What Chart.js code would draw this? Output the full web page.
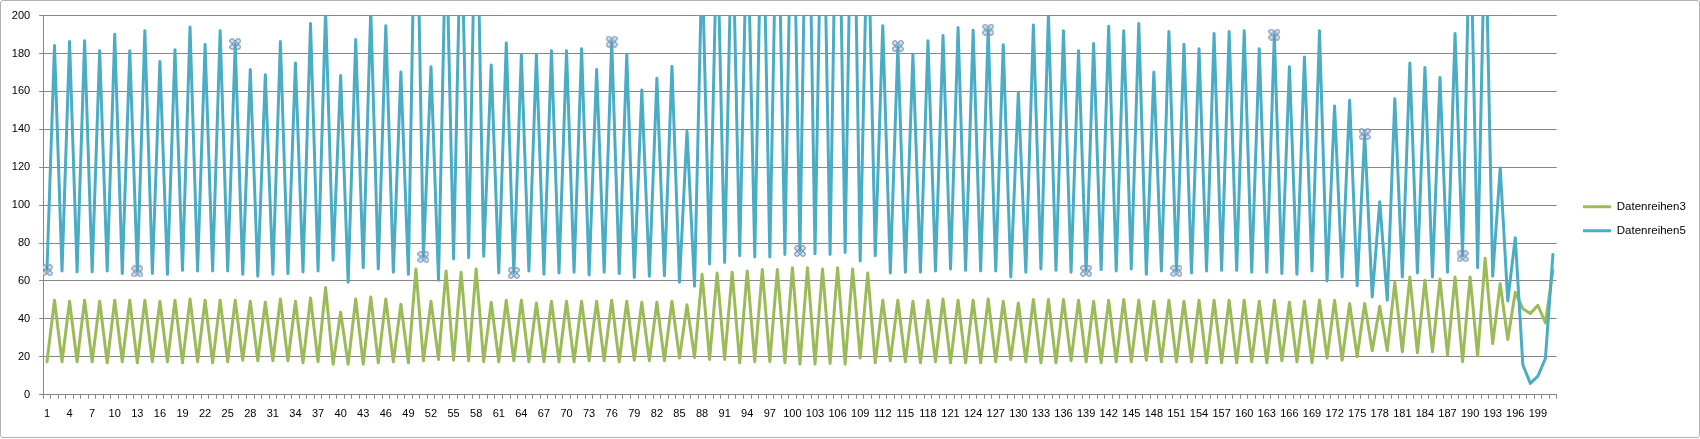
<!DOCTYPE html>
<html>
<head>
<meta charset="utf-8">
<script src="https://cdn.jsdelivr.net/npm/chart.js@4.4.1/dist/chart.umd.min.js"></script>
<style>
  html, body { margin: 0; padding: 0; background: #fff; }
  #rahmen { position: relative; width: 1700px; height: 439px; }
  #rand { position: absolute; left: 0; top: 0; width: 1698px; height: 436px; border: 1px solid #b2b2b2; border-radius: 3px; pointer-events: none; }
</style>
</head>
<body>
<div id="rahmen">
  <canvas id="myChart" width="1700" height="439"></canvas>
  <div id="rand"></div>
</div>
<script>
// Kategorien 1..201
var kategorien = [];
for (var k = 1; k <= 201; k++) kategorien.push(String(k));

// Datenreihen3 (grün)
var datenreihen3 = [
  17.4, 49.8, 17.4, 49.3, 17.4, 49.8, 17.4, 49.3, 16.8, 49.8,
  17.4, 49.8, 16.8, 49.8, 17.4, 49.3, 17.4, 49.8, 16.8, 50.5,
  17.4, 49.8, 16.8, 49.8, 17.4, 49.8, 18.2, 49.3, 17.9, 48.8,
  17.9, 50.5, 17.9, 49.3, 16.8, 51.0, 17.4, 56.5, 16.1, 43.5,
  16.1, 50.5, 16.1, 51.6, 16.8, 50.5, 17.4, 47.7, 16.8, 66.3,
  17.9, 49.3, 18.6, 65.3, 18.2, 64.6, 17.9, 66.3, 17.4, 48.8,
  17.4, 49.8, 17.9, 49.8, 17.4, 48.4, 17.4, 49.3, 17.4, 49.3,
  17.4, 49.3, 17.9, 49.3, 17.9, 49.8, 17.4, 49.3, 18.2, 48.8,
  17.9, 48.8, 17.9, 49.3, 19.3, 47.4, 19.6, 63.5, 18.6, 64.2,
  18.6, 64.6, 16.8, 65.3, 17.4, 66.0, 17.4, 66.0, 16.8, 67.0,
  16.1, 67.0, 16.1, 66.3, 16.5, 67.0, 16.1, 66.3, 19.3, 64.2,
  16.8, 49.8, 17.9, 49.8, 17.4, 49.3, 16.8, 49.8, 17.4, 50.5,
  16.8, 49.8, 16.8, 49.8, 16.8, 50.5, 17.4, 49.3, 18.6, 48.4,
  17.4, 50.2, 16.8, 50.2, 16.8, 50.2, 17.9, 49.8, 17.4, 49.3,
  16.8, 49.8, 17.4, 50.2, 17.4, 49.8, 18.2, 49.3, 17.4, 49.8,
  17.4, 49.3, 17.4, 49.8, 16.8, 49.8, 16.8, 49.8, 16.8, 49.8,
  17.4, 49.3, 16.8, 49.8, 17.9, 48.8, 17.4, 49.3, 16.8, 49.8,
  19.3, 49.8, 18.2, 48.1, 20.0, 48.1, 23.2, 46.7, 23.2, 59.3,
  22.6, 62.1, 22.1, 60.4, 22.6, 61.0, 20.9, 62.1, 17.4, 62.1,
  20.4, 72.0, 27.0, 58.6, 29.1, 54.0, 45.4, 42.8, 47.2, 37.9,
  65.6
];

// Datenreihen5 (blau) - Spitzen über 200 sind abgeschnitten, geschätzt
var datenreihen5 = [
  65.6, 184.2, 65.3, 186.3, 64.7, 186.7, 64.7, 181.4, 65.3, 190.2,
  63.9, 181.4, 65.0, 192.0, 64.0, 175.8, 63.5, 182.0, 65.6, 194.0,
  65.3, 184.7, 65.3, 192.0, 65.3, 185.0, 63.5, 171.6, 62.5, 168.8,
  63.5, 186.3, 63.9, 175.0, 64.7, 195.8, 65.3, 203.0, 70.9, 168.4,
  59.3, 187.4, 67.0, 203.0, 66.3, 194.7, 64.6, 170.2, 63.5, 295.0,
  72.6, 173.0, 60.4, 248.0, 71.6, 258.0, 72.3, 285.0, 73.0, 174.0,
  64.2, 185.6, 64.2, 179.3, 65.3, 179.3, 63.5, 181.4, 64.2, 181.4,
  64.6, 182.5, 63.2, 171.6, 64.6, 186.3, 63.9, 179.6, 61.8, 160.7,
  62.5, 167.0, 62.8, 173.3, 59.3, 139.0, 57.2, 230.0, 69.0, 248.0,
  69.8, 258.0, 73.3, 258.0, 72.6, 285.0, 72.6, 285.0, 74.0, 300.0,
  75.8, 320.0, 74.4, 300.0, 74.0, 320.0, 75.0, 318.0, 70.5, 258.0,
  73.3, 194.7, 64.2, 184.0, 64.6, 179.6, 64.6, 186.7, 65.3, 189.5,
  66.3, 193.7, 65.6, 192.3, 65.3, 192.6, 65.3, 184.6, 62.1, 159.3,
  64.6, 195.0, 66.3, 201.0, 65.6, 192.0, 64.6, 181.4, 65.3, 185.3,
  66.0, 194.4, 65.3, 192.0, 66.3, 195.8, 63.5, 170.2, 65.3, 191.6,
  65.3, 184.9, 64.2, 182.5, 65.3, 190.5, 65.6, 191.6, 65.6, 192.0,
  64.6, 182.5, 64.6, 190.0, 63.9, 173.0, 63.5, 178.2, 65.3, 192.0,
  60.0, 152.3, 62.1, 155.4, 57.5, 137.5, 51.6, 101.8, 49.8, 156.1,
  62.1, 175.0, 64.2, 172.6, 62.1, 167.4, 64.6, 190.5, 73.0, 258.0,
  67.0, 255.0, 62.5, 119.6, 49.5, 82.8, 15.8, 6.0, 9.8, 19.1,
  74.0
];

// Punkte mit den Markierungs-Griffen (1-basiert)
var markierungen = [1, 13, 26, 51, 63, 76, 101, 114, 126, 139, 151, 164, 176, 189];

var yMin = 0, yMax = 200, yStep = 20;

var grau = '#878787';
var schrift = { family: 'Liberation Sans', size: 11 };

// kleines Griff-Symbol
var griff = document.createElement('canvas');
griff.width = 12; griff.height = 12;
(function () {
  var g = griff.getContext('2d');
  g.strokeStyle = '#5b7ea6';
  g.lineWidth = 1;
  g.strokeRect(3, 3, 6, 6);
  [[3, 3], [9, 3], [3, 9], [9, 9]].forEach(function (p) {
    g.beginPath();
    g.arc(p[0], p[1], 2.3, 0, Math.PI * 2);
    g.fillStyle = '#dce6f2';
    g.fill();
    g.stroke();
  });
})();

var ctx = document.getElementById('myChart').getContext('2d');
var myChart = new Chart(ctx, {
  type: 'line',
  data: {
    labels: kategorien,
    datasets: [{
      label: 'Datenreihen3',
      data: datenreihen3,
      borderColor: '#9bbb59',
      backgroundColor: '#9bbb59',
      borderWidth: 3,
      borderJoinStyle: 'round',
      borderCapStyle: 'round',
      pointRadius: 0,
      tension: 0,
      clip: 0,
      order: 1
    }, {
      label: 'Datenreihen5',
      data: datenreihen5,
      borderColor: '#4bacc6',
      backgroundColor: '#4bacc6',
      borderWidth: 3,
      borderJoinStyle: 'round',
      borderCapStyle: 'round',
      pointStyle: griff,
      pointRadius: function (c) { return markierungen.indexOf(c.dataIndex + 1) >= 0 ? 4 : 0; },
      pointHoverRadius: 0,
      tension: 0,
      clip: 0,
      order: 0
    }]
  },
  options: {
    responsive: false,
    animation: false,
    events: [],
    layout: { padding: { top: 14.7, right: 4.2, bottom: 16, left: 0 } },
    plugins: {
      tooltip: { enabled: false },
      legend: {
        position: 'right',
        labels: {
          color: '#000',
          font: { family: 'Liberation Sans', size: 11.5 },
          boxWidth: 28,
          boxHeight: 3,
          padding: 12.5,
          sort: function (a, b) { return a.datasetIndex - b.datasetIndex; },
          generateLabels: function (chart) {
            return Chart.defaults.plugins.legend.labels.generateLabels(chart).map(function (l) {
              l.lineWidth = 0;
              l.fillStyle = l.strokeStyle;
              return l;
            });
          }
        }
      }
    },
    scales: {
      x: {
        type: 'category',
        offset: true,
        grid: { offset: true, drawOnChartArea: false, drawTicks: true, tickLength: 4, color: grau },
        border: { color: grau },
        ticks: {
          autoSkip: false,
          maxRotation: 0,
          minRotation: 0,
          color: '#000',
          font: schrift,
          padding: 9,
          callback: function (v, i) { return i % 3 === 0 ? kategorien[i] : ''; }
        },
        afterFit: function (s) { s.height = 28.3; }
      },
      y: {
        min: yMin,
        max: yMax,
        grid: { color: grau, tickLength: 4 },
        border: { color: grau },
        ticks: { stepSize: yStep, color: '#000', font: schrift, padding: 9 },
        afterFit: function (s) { s.width = 43.2; }
      },
      abstand: {
        type: 'linear',
        position: 'right',
        display: true,
        grid: { display: false },
        border: { display: false },
        ticks: { display: false },
        afterFit: function (s) { s.width = 13.8; }
      }
    }
  }
});
</script>
</body>
</html>
